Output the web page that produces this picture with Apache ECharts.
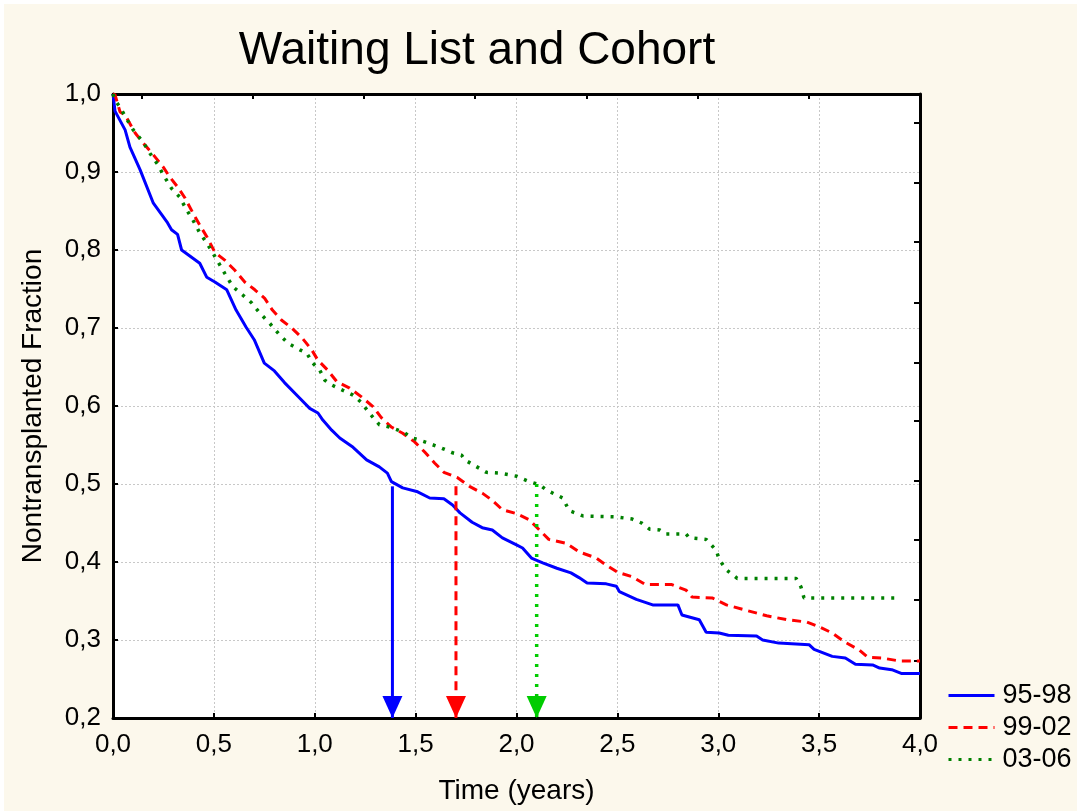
<!DOCTYPE html>
<html>
<head>
<meta charset="utf-8">
<script src="https://cdn.jsdelivr.net/npm/echarts@6/dist/echarts.min.js"></script>
<style>
  html, body { margin: 0; padding: 0; background: #ffffff; }
  #chart { position: absolute; left: 4px; top: 4px; width: 1073px; height: 807px; }
</style>
</head>
<body>
<div id="chart"></div>
<script>
// ---- Data ----
const seriesNames = ['95-98', '99-02', '03-06'];

const blueT = [0, 0.01, 0.06, 0.084, 0.134, 0.2, 0.27, 0.29, 0.32, 0.34, 0.43, 0.465, 0.505, 0.564, 0.61, 0.66, 0.70, 0.75, 0.80, 0.85, 0.926, 0.975, 1.016, 1.04, 1.084, 1.124, 1.19, 1.257, 1.32, 1.36, 1.38, 1.436, 1.51, 1.57, 1.64, 1.683, 1.72, 1.78, 1.83, 1.88, 1.93, 2.0, 2.03, 2.074, 2.13, 2.20, 2.27, 2.31, 2.35, 2.445, 2.495, 2.51, 2.594, 2.675, 2.80, 2.82, 2.906, 2.94, 3.005, 3.05, 3.19, 3.22, 3.30, 3.45, 3.475, 3.565, 3.63, 3.68, 3.765, 3.80, 3.86, 3.91, 4.0];
const blueS = [1.0, 0.978, 0.954, 0.932, 0.903, 0.86, 0.835, 0.826, 0.82, 0.80, 0.783, 0.765, 0.759, 0.749, 0.723, 0.701, 0.685, 0.655, 0.645, 0.63, 0.610, 0.597, 0.591, 0.582, 0.569, 0.559, 0.547, 0.531, 0.522, 0.514, 0.503, 0.495, 0.49, 0.482, 0.481, 0.473, 0.463, 0.451, 0.444, 0.441, 0.431, 0.422, 0.418, 0.405, 0.399, 0.392, 0.386, 0.380, 0.373, 0.372, 0.369, 0.362, 0.352, 0.345, 0.345, 0.332, 0.326, 0.310, 0.309, 0.306, 0.305, 0.300, 0.296, 0.294, 0.288, 0.279, 0.277, 0.269, 0.268, 0.264, 0.262, 0.257, 0.257];

const redT = [0, 0.01, 0.035, 0.06, 0.11, 0.15, 0.2, 0.25, 0.28, 0.32, 0.356, 0.397, 0.43, 0.465, 0.505, 0.554, 0.604, 0.653, 0.703, 0.752, 0.79, 0.836, 0.886, 0.935, 0.985, 1.015, 1.064, 1.11, 1.173, 1.23, 1.29, 1.33, 1.38, 1.436, 1.495, 1.545, 1.594, 1.64, 1.708, 1.767, 1.832, 1.88, 1.93, 2.0, 2.064, 2.114, 2.16, 2.247, 2.31, 2.396, 2.445, 2.50, 2.574, 2.64, 2.77, 2.84, 2.87, 2.97, 3.04, 3.14, 3.24, 3.34, 3.44, 3.50, 3.565, 3.63, 3.70, 3.74, 3.81, 3.90, 4.0];
const redS = [1.0, 0.999, 0.977, 0.973, 0.95, 0.937, 0.922, 0.906, 0.894, 0.881, 0.867, 0.847, 0.832, 0.817, 0.797, 0.787, 0.774, 0.759, 0.749, 0.738, 0.723, 0.71, 0.70, 0.688, 0.672, 0.659, 0.646, 0.631, 0.623, 0.612, 0.599, 0.585, 0.573, 0.565, 0.554, 0.541, 0.527, 0.515, 0.508, 0.497, 0.488, 0.479, 0.467, 0.462, 0.454, 0.441, 0.429, 0.424, 0.413, 0.405, 0.396, 0.387, 0.381, 0.371, 0.371, 0.364, 0.355, 0.354, 0.345, 0.338, 0.331, 0.326, 0.323, 0.317, 0.309, 0.297, 0.287, 0.278, 0.277, 0.273, 0.273];

const greenT = [0, 0.01, 0.035, 0.07, 0.1, 0.15, 0.183, 0.223, 0.25, 0.29, 0.33, 0.366, 0.397, 0.43, 0.465, 0.495, 0.52, 0.554, 0.594, 0.644, 0.688, 0.728, 0.777, 0.83, 0.87, 0.926, 0.96, 0.99, 1.025, 1.05, 1.084, 1.14, 1.19, 1.233, 1.27, 1.32, 1.37, 1.436, 1.485, 1.545, 1.62, 1.683, 1.728, 1.743, 1.79, 1.85, 1.916, 2.0, 2.064, 2.114, 2.15, 2.23, 2.26, 2.33, 2.49, 2.574, 2.62, 2.66, 2.71, 2.74, 2.84, 2.856, 2.94, 2.99, 3.005, 3.04, 3.094, 3.386, 3.41, 3.425, 3.88];
const greenS = [1.0, 0.992, 0.983, 0.967, 0.954, 0.938, 0.924, 0.909, 0.896, 0.879, 0.868, 0.851, 0.838, 0.822, 0.809, 0.796, 0.785, 0.77, 0.753, 0.742, 0.732, 0.719, 0.706, 0.69, 0.68, 0.672, 0.668, 0.655, 0.646, 0.633, 0.627, 0.62, 0.614, 0.604, 0.591, 0.576, 0.573, 0.567, 0.559, 0.554, 0.547, 0.54, 0.537, 0.531, 0.524, 0.515, 0.514, 0.51, 0.503, 0.499, 0.492, 0.482, 0.466, 0.459, 0.458, 0.455, 0.450, 0.442, 0.441, 0.436, 0.436, 0.431, 0.429, 0.415, 0.403, 0.39, 0.379, 0.379, 0.368, 0.354, 0.354];

// median-time arrows
const arrowT = [1.385, 1.70, 2.10];
const arrowTop = [0.497, 0.497, 0.500];
const arrowBottom = 0.2;

// axis ticks
const xMin = 0, xMax = 4, xStep = 0.5;
const yMin = 0.2, yMax = 1.0, yStep = 0.1;
const topTicks = [0.142, 0.693, 1.244, 1.795, 2.346, 2.897, 3.448];
const rightTicks = [0.274, 0.351, 0.428, 0.504, 0.581, 0.656, 0.733, 0.810, 0.886, 0.963];

// ---- Chart ----
const FONT = "'Liberation Sans', Arial, sans-serif";
const zip = (a, b) => a.map((v, i) => [v, b[i]]);
const comma = v => v.toFixed(1).replace('.', ',');

const curveColors = ['#0000FF', '#FF0000', '#008000'];
const arrowColors = ['#0000FF', '#FF0000', '#00CC00'];
const curveStyles = [
  { width: 3, type: 'solid' },
  { width: 3, type: [9, 6] },
  { width: 3.5, type: [3, 7] }
];
const curves = [zip(blueT, blueS), zip(redT, redS), zip(greenT, greenS)];

const series = curves.map((d, i) => ({
  name: seriesNames[i],
  type: 'line',
  data: d,
  symbol: 'none',
  showSymbol: false,
  color: curveColors[i],
  lineStyle: Object.assign({ color: curveColors[i] }, curveStyles[i]),
  xAxisIndex: 0, yAxisIndex: 0,
  z: 3 + i,
  animation: false
}));

arrowT.forEach((t, i) => {
  series.push({
    name: 'arrow' + i,
    type: 'line',
    xAxisIndex: 0, yAxisIndex: 0,
    clip: false,
    showSymbol: true,
    animation: false,
    z: 10,
    lineStyle: Object.assign({}, curveStyles[i], { color: arrowColors[i] }),
    itemStyle: { color: arrowColors[i] },
    data: [
      { value: [t, arrowTop[i]], symbol: 'none' },
      { value: [t, arrowBottom], symbol: 'triangle', symbolRotate: 180, symbolSize: [20, 22], symbolOffset: [0, '-50%'] }
    ]
  });
});

const chart = echarts.init(document.getElementById('chart'), null, { renderer: 'canvas' });
chart.setOption({
  backgroundColor: '#FCF8EC',
  animation: false,
  title: {
    text: 'Waiting List and Cohort',
    left: 468,
    top: 19,
    textAlign: 'center',
    textStyle: { fontFamily: FONT, fontSize: 46, fontWeight: 'normal', color: '#000' }
  },
  legend: {
    data: seriesNames,
    orient: 'vertical',
    left: 938,
    top: 673,
    itemWidth: 46,
    itemHeight: 14,
    itemGap: 5,
    itemStyle: { opacity: 0 },
    lineStyle: { opacity: 1, width: 3 },
    textStyle: { fontFamily: FONT, fontSize: 27, color: '#000', padding: [0, 0, 0, 3] }
  },
  grid: {
    left: 109, right: 157, top: 90, bottom: 93,
    show: true,
    backgroundColor: '#FFFFFF',
    borderColor: '#000',
    borderWidth: 0
  },
  xAxis: [
    {
      type: 'value', position: 'bottom',
      min: xMin, max: xMax, interval: xStep,
      name: 'Time (years)', nameLocation: 'middle', nameGap: 59,
      nameTextStyle: { fontFamily: FONT, fontSize: 28, color: '#000' },
      axisLine: { show: true, onZero: false, lineStyle: { color: '#000', width: 3 } },
      axisTick: { show: true, inside: true, length: 5, lineStyle: { color: '#000', width: 2 } },
      axisLabel: { fontFamily: FONT, fontSize: 26, color: '#000', margin: 14, formatter: comma },
      splitLine: { show: true, lineStyle: { color: '#C8C8C8', width: 1, type: [2, 2] } }
    },
    {
      type: 'value', position: 'top',
      min: xMin, max: xMax,
      axisLine: { show: true, onZero: false, lineStyle: { color: '#000', width: 3 } },
      axisTick: { show: true, inside: true, length: 5, customValues: topTicks, lineStyle: { color: '#000', width: 2 } },
      axisLabel: { show: false },
      splitLine: { show: false }
    }
  ],
  yAxis: [
    {
      type: 'value', position: 'left',
      min: yMin, max: yMax, interval: yStep,
      name: 'Nontransplanted Fraction', nameLocation: 'middle', nameGap: 66, nameRotate: 90,
      nameTextStyle: { fontFamily: FONT, fontSize: 28, color: '#000' },
      axisLine: { show: true, onZero: false, lineStyle: { color: '#000', width: 3 } },
      axisTick: { show: true, inside: true, length: 5, lineStyle: { color: '#000', width: 2 } },
      axisLabel: { fontFamily: FONT, fontSize: 26, color: '#000', margin: 12, formatter: comma },
      splitLine: { show: true, lineStyle: { color: '#C8C8C8', width: 1, type: [2, 2] } }
    },
    {
      type: 'value', position: 'right',
      min: yMin, max: yMax,
      axisLine: { show: true, onZero: false, lineStyle: { color: '#000', width: 3 } },
      axisTick: { show: true, inside: true, length: 6, customValues: rightTicks, lineStyle: { color: '#000', width: 2 } },
      axisLabel: { show: false },
      splitLine: { show: false }
    }
  ],
  series: series
});
</script>
</body>
</html>
